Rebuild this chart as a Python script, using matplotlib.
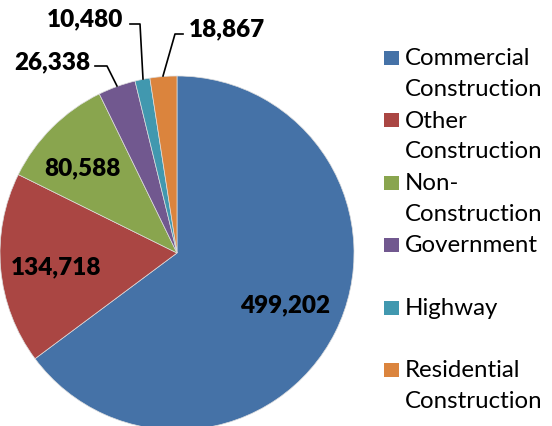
import matplotlib
matplotlib.use('Agg')
import matplotlib.pyplot as plt
from matplotlib.patches import Rectangle

categories = ['Commercial Construction', 'Other Construction', 'Non-Construction',
              'Government', 'Highway', 'Residential Construction']
legend_lines = [['Commercial', 'Construction'], ['Other', 'Construction'],
                ['Non-', 'Construction'], ['Government'], ['Highway'],
                ['Residential', 'Construction']]
values = [499202, 134718, 80588, 26338, 10480, 18867]
colors = ['#4572A7', '#AA4643', '#89A54E', '#71588F', '#4198AF', '#DB843D']

plt.rcParams['font.family'] = ['Lato', 'DejaVu Sans']

fig = plt.figure(figsize=(5.52, 4.27), dpi=100)
ax = fig.add_axes([0, 0, 1, 1])

cx, cy, r = 177, 173, 177
wedges, _ = ax.pie(values, colors=colors, startangle=90, counterclock=False,
                   center=(cx, cy), radius=r, frame=True,
                   wedgeprops=dict(edgecolor='#dddddd', linewidth=0.5))
ax.set_xlim(0, 552)
ax.set_ylim(0, 427)
ax.set_aspect('equal')
ax.axis('off')

# data labels (inside for large slices, leader lines for small)
label_pos = [(285, 122), (56, 160), (82, 259), (52, 365), (85, 408), (227, 398)]
leaders = [None, None, None,
           [(95, 360), (107, 360), (117, 340)],
           [(130, 402), (140, 402), (143, 347)],
           [(163, 350), (175, 392), (183, 392)]]
for v, (x, y), ld in zip(values, label_pos, leaders):
    ax.text(x, y, f'{v:,}', ha='center', va='center', fontsize=17.5,
            fontweight='heavy', color='black')
    if ld:
        xs, ys = zip(*ld)
        ax.plot(xs, ys, color='black', linewidth=1.2)

# legend
for i, (lines, c) in enumerate(zip(legend_lines, colors)):
    y = 427 - (58.5 + 62.5 * i)
    ax.add_patch(Rectangle((384, y - 7), 15, 14, facecolor=c, edgecolor='none'))
    for j, t in enumerate(lines):
        ax.text(405, y - 31 * j, t, ha='left', va='center', fontsize=17.3,
                color='black')

fig.savefig('out.png', dpi=100)
